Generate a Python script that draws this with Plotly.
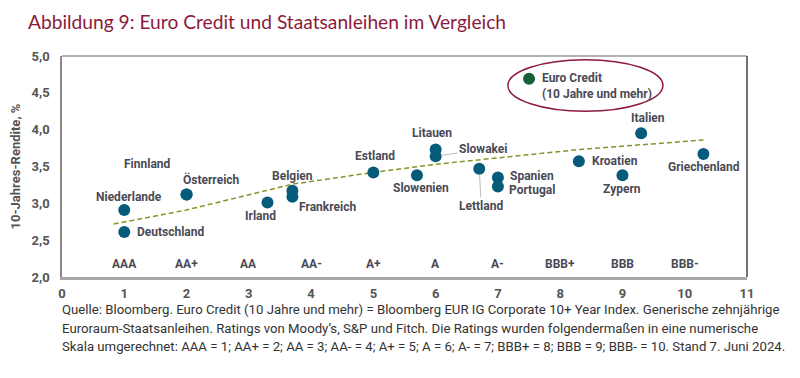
import plotly.graph_objects as go

# ---------------- data ----------------
countries = ["Niederlande", "Deutschland", "Finnland", "Österreich", "Irland", "Belgien",
             "Frankreich", "Estland", "Litauen", "Slowakei", "Slowenien", "Lettland",
             "Spanien", "Portugal", "Kroatien", "Italien", "Zypern", "Griechenland"]
rating_score = [1.0, 1.0, 2.0, 2.0, 3.3, 3.7, 3.7, 5.0, 6.0, 6.0, 5.7, 6.7,
                7.0, 7.0, 8.3, 9.3, 9.0, 10.3]
yield_10y = [2.91, 2.61, 3.12, 3.12, 3.01, 3.17, 3.09, 3.42, 3.73, 3.64, 3.38, 3.47,
             3.35, 3.23, 3.57, 3.95, 3.38, 3.67]

credit_name = "Euro Credit<br>(10 Jahre und mehr)"
credit_score = [7.5]
credit_yield = [4.69]

trend_x = [0.83, 2.0, 3.7, 5.0, 6.0, 8.3, 10.3]
trend_y = [2.72, 2.91, 3.26, 3.42, 3.53, 3.73, 3.86]

rating_pos = [1, 2, 3, 4, 5, 6, 7, 8, 9, 10]
rating_labels = ["AAA", "AA+", "AA", "AA-", "A+", "A", "A-", "BBB+", "BBB", "BBB-"]

title_text = "Abbildung 9: Euro Credit und Staatsanleihen im Vergleich"
y_title = "10-Jahres-Rendite, %"
footnote = [
    "Quelle: Bloomberg. Euro Credit (10 Jahre und mehr) = Bloomberg EUR IG Corporate 10+ Year Index. Generische zehnjährige",
    "Euroraum-Staatsanleihen. Ratings von Moody’s, S&P und Fitch. Die Ratings wurden folgendermaßen in eine numerische",
    "Skala umgerechnet: AAA = 1; AA+ = 2; AA = 3; AA- = 4; A+ = 5; A = 6; A- = 7; BBB+ = 8; BBB = 9; BBB- = 10. Stand 7. Juni 2024.",
]

# ---------------- style ----------------
FONT = "Roboto, Noto Sans, sans-serif"
LABEL_COLOR = "#4a4a55"
AXIS_COLOR = "#555555"
DOT = "#075b7a"
GREEN = "#175f3a"
MAROON = "#8b1a3d"
OLIVE = "#839428"

# page has an 8px body margin; figure is sized to fit the 800x378 window
W, H = 792, 370
OFF = 8

# label placement: (xanchor, xshift, yshift)
label_pos = {
    "Niederlande": ("center", 5, 13),
    "Deutschland": ("left", 11, 0),
    "Finnland": ("center", -39, 30),
    "Österreich": ("center", 25, 15),
    "Irland": ("center", -7, -13),
    "Belgien": ("center", 0, 15),
    "Frankreich": ("left", 5, -10),
    "Estland": ("center", 2, 16),
    "Litauen": ("center", -4, 17),
    "Slowenien": ("center", 4, -13),
    "Spanien": ("left", 10, 2),
    "Portugal": ("left", 9, -4),
    "Kroatien": ("left", 11, 0),
    "Italien": ("center", 7, 15),
    "Zypern": ("center", 0, -14),
    "Griechenland": ("center", 1, -13),
}
# labels with leader lines: (ax, ay)
arrow_pos = {
    "Slowakei": (48, -7),
    "Lettland": (2, 37),
}

fig = go.Figure()

fig.add_trace(go.Scatter(
    x=trend_x, y=trend_y, mode="lines",
    line=dict(color=OLIVE, width=1.5, dash="5px,3px"),
    hoverinfo="skip", showlegend=False))

fig.add_trace(go.Scatter(
    x=rating_score, y=yield_10y, mode="markers", text=countries,
    marker=dict(color=DOT, size=12, line=dict(width=0)),
    showlegend=False))

fig.add_trace(go.Scatter(
    x=credit_score, y=credit_yield, mode="markers",
    marker=dict(color=GREEN, size=12, line=dict(width=0)),
    showlegend=False))

annotations = []
lab_font = dict(family=FONT, size=12, color=LABEL_COLOR, weight="bold")
for name, xv, yv in zip(countries, rating_score, yield_10y):
    if name in label_pos:
        xa, xs, ys = label_pos[name]
        annotations.append(dict(x=xv, y=yv, xref="x", yref="y", text=name, showarrow=False,
                                xanchor=xa, yanchor="middle", xshift=xs, yshift=ys, font=lab_font))
    elif name in arrow_pos:
        ax, ay = arrow_pos[name]
        annotations.append(dict(x=xv, y=yv, xref="x", yref="y", text=name, showarrow=True,
                                ax=ax, ay=ay, arrowhead=0, arrowwidth=1, arrowcolor="#bdbdbd",
                                standoff=6, font=lab_font))

annotations.append(dict(x=credit_score[0], y=credit_yield[0], xref="x", yref="y", text=credit_name,
                        showarrow=False, xanchor="left", yanchor="middle", align="left",
                        xshift=11, yshift=-7, font=lab_font))

for xp, lab in zip(rating_pos, rating_labels):
    annotations.append(dict(x=xp, y=2.18, xref="x", yref="y", text=lab, showarrow=False,
                            xanchor="center", yanchor="middle", font=lab_font))

foot_y = [-0.149, -0.232, -0.316]
for line, fy in zip(footnote, foot_y):
    annotations.append(dict(x=0, y=fy, xref="paper", yref="paper", text=line, showarrow=False,
                            xanchor="left", yanchor="middle", xshift=-2,
                            font=dict(family=FONT, size=13.2, color="#333333")))

shapes = [
    dict(type="circle", xref="x", yref="y", x0=7.16, x1=9.65, y0=4.25, y1=4.95,
         line=dict(color=MAROON, width=1.5)),
    dict(type="line", xref="paper", yref="paper", x0=0, x1=1, y0=1, y1=1,
         line=dict(color="#9a9a9a", width=1.5)),
    dict(type="line", xref="paper", yref="paper", x0=1, x1=1, y0=0, y1=1,
         line=dict(color="#444444", width=1.5)),
]

fig.update_layout(
    width=W, height=H,
    margin=dict(l=62 - OFF, r=W - (747 - OFF), t=56 - OFF, b=H - (277 - OFF)),
    paper_bgcolor="white", plot_bgcolor="white",
    separators=",.",
    title=dict(text=title_text, x=(28 - OFF) / W, xanchor="left", y=1 - (22 - OFF) / H,
               yanchor="middle",
               font=dict(family="Lato, Open Sans, sans-serif", size=19.2, color=MAROON)),
    xaxis=dict(range=[0, 11], tickmode="linear", tick0=0, dtick=1, showgrid=False, zeroline=False,
               showline=True, linecolor="#a8a8a8", linewidth=2.5, automargin=False,
               ticks="outside", ticklen=3, tickcolor="rgba(0,0,0,0)",
               tickfont=dict(family=FONT, size=13, color=AXIS_COLOR, weight="bold")),
    yaxis=dict(range=[2, 5], tickmode="linear", tick0=2, dtick=0.5, tickformat=".1f",
               showgrid=False, zeroline=False, showline=True, linecolor="#8a8a8a", linewidth=1.5,
               automargin=False,
               ticks="outside", ticklen=8, tickcolor="rgba(0,0,0,0)",
               tickfont=dict(family=FONT, size=13, color=AXIS_COLOR, weight="bold"),
               title=dict(text=y_title, standoff=10,
                          font=dict(family=FONT, size=13, color=AXIS_COLOR, weight="bold"))),
    annotations=annotations,
    shapes=shapes,
    showlegend=False,
)

fig.write_html("out.html")
